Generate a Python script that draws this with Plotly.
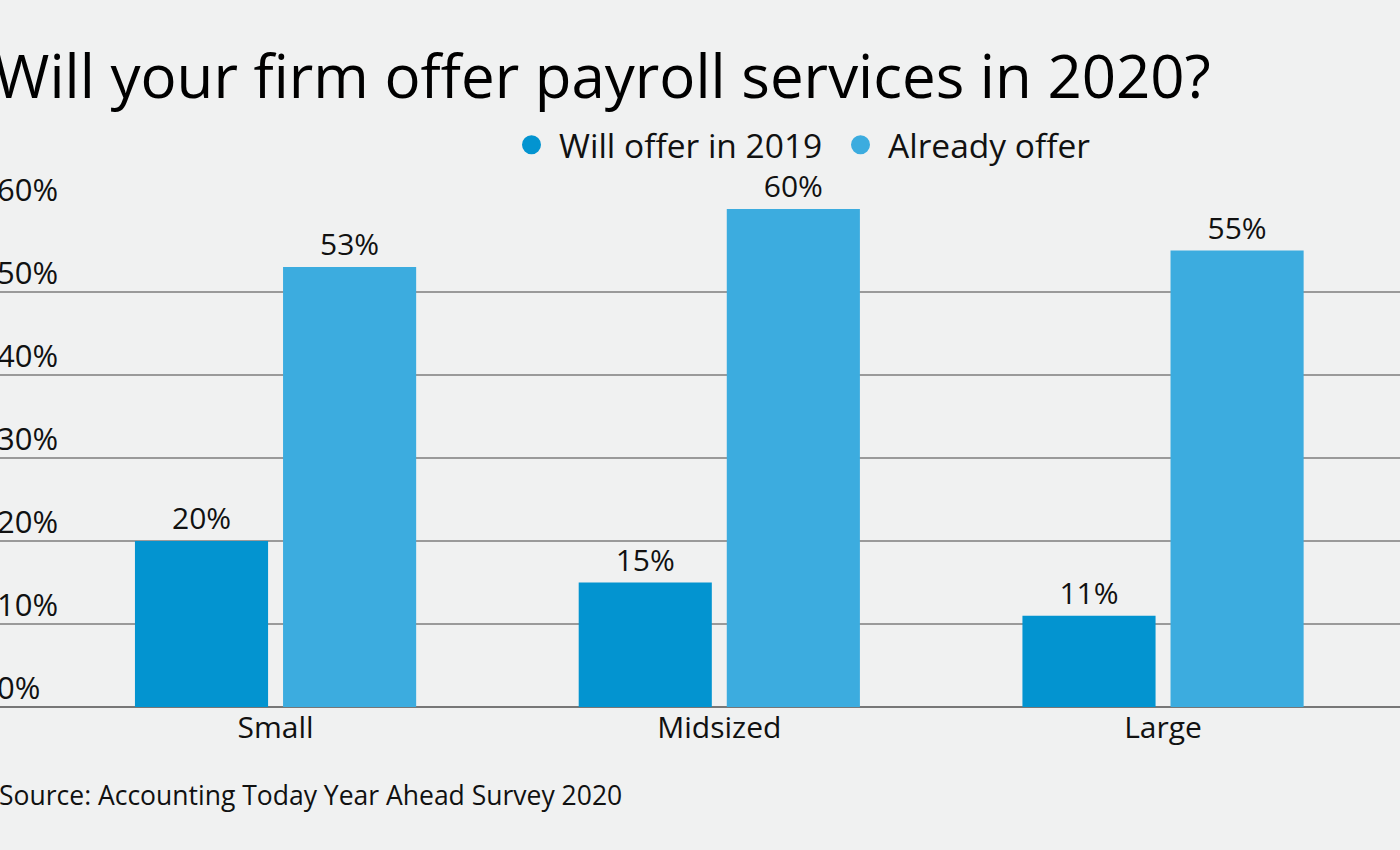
import plotly.graph_objects as go

categories = ["Small", "Midsized", "Large"]
will_offer_2019 = [20, 15, 11]
already_offer = [53, 60, 55]
series_names = ["Will offer in 2019", "Already offer"]
series_colors = ["#0394d0", "#3cacdf"]
y_ticks = [0, 10, 20, 30, 40, 50, 60]
y_tick_labels = [f"{v}%" for v in y_ticks]
title_text = "Will your firm offer payroll services in 2020?"
source_text = "Source: Accounting Today Year Ahead Survey 2020"

FONT = "Open Sans"
W, H = 1400, 850
T, B = 209, 143
PH = H - T - B


def py(pix):
    # convert a pixel row to paper coordinates
    return (H - B - pix) / PH


fig = go.Figure()
for name, vals, col in zip(series_names, [will_offer_2019, already_offer], series_colors):
    fig.add_trace(go.Bar(
        x=categories, y=vals, name=name, marker=dict(color=col, line=dict(width=0)),
        text=[f"{v}%" for v in vals], textposition="outside",
        textfont=dict(size=30, color="#111111", family=FONT),
        cliponaxis=False, showlegend=False,
    ))
    fig.add_trace(go.Scatter(
        x=[None], y=[None], mode="markers", name=name,
        marker=dict(symbol="circle", size=16, color=col, line=dict(width=3, color=col)),
        showlegend=True,
    ))

annotations = []
for v, lab in zip(y_ticks, y_tick_labels):
    annotations.append(dict(
        x=-5 / W, xref="paper", xanchor="left", y=v, yref="y", yanchor="bottom",
        yshift=-3, text=lab, showarrow=False,
        font=dict(size=31, color="#111111", family=FONT),
    ))
annotations.append(dict(
    x=-8 / W, xref="paper", xanchor="left", y=py(75), yref="paper", yanchor="middle",
    text=title_text, showarrow=False, font=dict(size=60, color="#000000", family=FONT),
))
annotations.append(dict(
    x=-3 / W, xref="paper", xanchor="left", y=py(795), yref="paper", yanchor="middle",
    text=source_text, showarrow=False, font=dict(size=26.5, color="#111111", family=FONT),
))

fig.update_layout(
    width=W, height=H,
    paper_bgcolor="#f0f1f1", plot_bgcolor="#f0f1f1",
    margin=dict(l=0, r=0, t=T, b=B, pad=0),
    barmode="group", bargap=0.3326, bargroupgap=0.101,
    font=dict(family=FONT, color="#111111"),
    legend=dict(
        orientation="h", x=504 / W, xanchor="left", y=py(145), yanchor="middle",
        font=dict(size=33.5, color="#111111", family=FONT),
        bgcolor="rgba(0,0,0,0)", traceorder="normal", itemwidth=45,
        entrywidth=269, entrywidthmode="pixels",
    ),
    xaxis=dict(
        range=[-0.621, 2.534], showgrid=False, showline=False, zeroline=False,
        ticks="", tickfont=dict(size=30, color="#111111", family=FONT),
    ),
    yaxis=dict(
        range=[0, 60], tickvals=y_ticks, showticklabels=False, showgrid=True,
        gridcolor="#9a9a9a", gridwidth=2, zeroline=True, zerolinecolor="#777777",
        zerolinewidth=2, showline=False, ticks="",
    ),
    annotations=annotations,
)

fig.write_html("out.html")
